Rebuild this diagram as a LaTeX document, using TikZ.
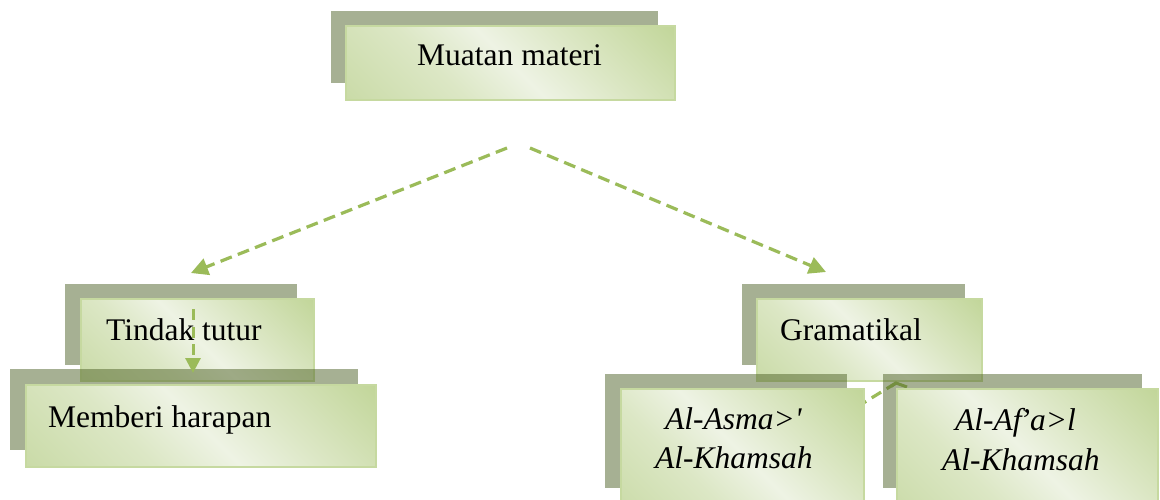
\documentclass[tikz,border=0pt]{standalone}
\usepackage{fontspec}
\setmainfont{Liberation Serif}
\usetikzlibrary{arrows.meta,calc}
\definecolor{shadowc}{HTML}{4F6228}
\definecolor{linec}{HTML}{9BBB59}
\definecolor{borderc}{HTML}{C6D9A0}
\definecolor{gA}{HTML}{C2D69A}
\definecolor{gB}{HTML}{CADBA8}
\definecolor{gM}{HTML}{DCE7C5}
\definecolor{gP}{HTML}{EEF3E4}
\pgfdeclarehorizontalshading{boxshade}{100bp}{color(0bp)=(gB); color(15bp)=(gB); color(36bp)=(gM); color(50bp)=(gP); color(64bp)=(gM); color(85bp)=(gA); color(100bp)=(gA)}
\tikzset{
  shadowbox/.style={fill=shadowc, fill opacity=0.5, draw=none, inner sep=0pt, outer sep=0pt, anchor=north west},
  frontbox/.style={shading=boxshade, shading angle=45, draw=borderc, line width=2pt, inner sep=0pt, outer sep=0pt, anchor=north west},
  txt/.style={anchor=base west, inner sep=0pt, font=\fontsize{31.5}{38}\selectfont},
  itxt/.style={anchor=base west, inner sep=0pt, font=\fontsize{31.5}{38}\selectfont\itshape},
  conn/.style={draw=linec, line width=3.2pt, dash pattern=on 12pt off 6.5pt, -{Triangle[length=17pt,width=17pt]}},
  plainconn/.style={draw=linec, line width=3.2pt, dash pattern=on 11pt off 6.5pt},
}
\begin{document}
\begin{tikzpicture}[x=1pt,y=-1pt]
\useasboundingbox (0,0) rectangle (1160,500);
\clip (0,0) rectangle (1160,500);
\fill[white] (0,0) rectangle (1160,500);

% top box
\node[shadowbox, minimum width=327pt, minimum height=72pt] (muatanS) at (331,11) {};
\node[frontbox, minimum width=329pt, minimum height=74pt] (muatanF) at (346,26) {};

% Tindak tutur
\node[shadowbox, minimum width=232pt, minimum height=81pt] (tindakS) at (65,284) {};
\node[frontbox, minimum width=233pt, minimum height=82pt] (tindakF) at (81,299) {};

% Memberi harapan
\node[shadowbox, minimum width=348pt, minimum height=81pt] (memberiS) at (10,369) {};
\node[frontbox, minimum width=350pt, minimum height=82pt] (memberiF) at (26,385) {};

% Gramatikal
\node[shadowbox, minimum width=223pt, minimum height=81pt] (gramS) at (742,284) {};
\node[frontbox, minimum width=225pt, minimum height=82pt] (gramF) at (757,299) {};

% line from Gramatikal to Al-Asma (mostly hidden)
\coordinate (gramFoot) at (896,383);
\coordinate (asmaTop) at (860,405);
\draw[plainconn] (gramFoot) -- (asmaTop);
\coordinate (chevL) at (891,386.5);
\coordinate (chevR) at (907,387);
\draw[draw=linec, line width=3pt, line join=miter] (chevL) -- (gramFoot) -- (chevR);

% lower shadows
\node[shadowbox, minimum width=242pt, minimum height=114pt] (asmaS) at (605,374) {};
\node[shadowbox, minimum width=259pt, minimum height=114pt] (afalS) at (883,374) {};
\node[frontbox, minimum width=243pt, minimum height=130pt] (asmaF) at (621,389) {};
\node[frontbox, minimum width=261pt, minimum height=130pt] (afalF) at (897,389) {};

% connectors from top
\coordinate (apexL) at (507,148);
\coordinate (apexR) at (530,148);
\coordinate (tindakIn) at (191,273);
\coordinate (gramIn) at (826,272);
\draw[conn] (apexL) -- (tindakIn);
\draw[conn] (apexR) -- (gramIn);

% Tindak tutur -> Memberi harapan
\coordinate (tindakOut) at (193,309);
\coordinate (memberiIn) at (193,373);
\draw[draw=linec, line width=3pt, dash pattern=on 11pt off 6.5pt, -{Triangle[length=15pt,width=15pt]}] (tindakOut) -- (memberiIn);

% texts
\node[txt] (tMuatan) at (417,66) {Muatan materi};
\node[txt] (tTindak) at (106,340) {Tindak tutur};
\node[txt] (tMemberi) at (48,427) {Memberi harapan};
\node[txt] (tGram) at (780,340) {Gramatikal};
\node[itxt] (tAsma1) at (665,429) {Al-Asma>\textquotesingle};
\node[itxt] (tAsma2) at (655,468) {Al-Khamsah};
\node[itxt] (tAfal1) at (955,430) {Al-Af\kern-2pt’a>l};
\node[itxt] (tAfal2) at (942,470) {Al-Khamsah};
\end{tikzpicture}
\end{document}
